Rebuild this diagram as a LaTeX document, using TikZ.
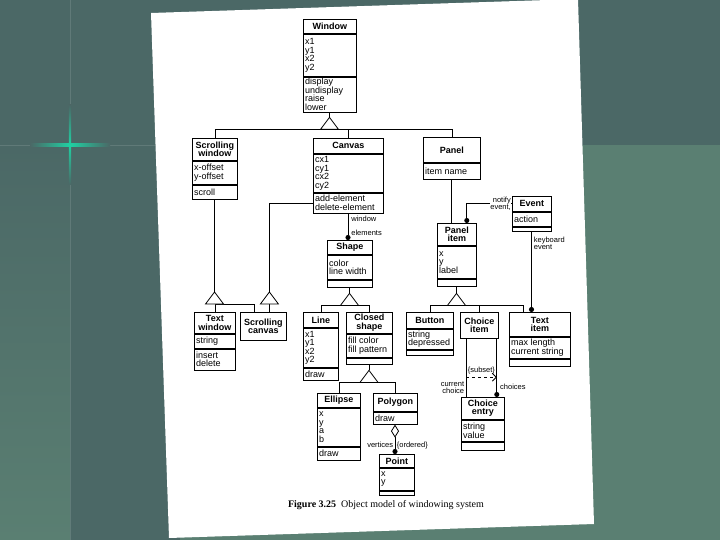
\documentclass[tikz,border=0pt]{standalone}
\usepackage{fontspec}
\setmainfont{Liberation Serif}
\setsansfont{Liberation Sans}
\usetikzlibrary{arrows.meta}

\definecolor{slate}{HTML}{4B6866}
\definecolor{sea}{HTML}{5A7F72}
\definecolor{glow}{HTML}{1FD1A3}

\tikzset{
  box/.style={draw, line width=0.8pt, inner sep=0pt, anchor=north west},
  cname/.style={font=\sffamily\bfseries\fontsize{9}{8.5}\selectfont, align=center, inner sep=0pt},
  ctext/.style={font=\sffamily\fontsize{9}{8.5}\selectfont, align=left, inner sep=0pt, anchor=west},
  role/.style={font=\sffamily\fontsize{7.5}{7.5}\selectfont, align=left, inner sep=0pt},
  link/.style={line width=0.8pt},
  many/.style={-{Circle[length=5pt]}},
  gen/.pic={\draw[link, fill=white] (0,0) -- (-9,12) -- (9,12) -- cycle;},
}

% class box: id, corner, width, heights of name/attribute/operation parts, texts
\newcommand\umlclass[9]{%
  \node[box, minimum width=#3pt, minimum height=#4pt] (#1) at (#2) {};
  \node[cname] (#1-n) at (#1.center) {#7};
  \coordinate (#1-b) at (#1.south west);
  \ifdim#5pt>0pt
    \node[box, minimum width=#3pt, minimum height=#5pt] (#1-a) at (#1-b) {};
    \node[ctext] (#1-at) at ([xshift=2pt]#1-a.west) {#8};
    \coordinate (#1-b) at (#1-a.south west);
  \fi
  \ifdim#6pt>0pt
    \node[box, minimum width=#3pt, minimum height=#6pt] (#1-o) at (#1-b) {};
    \node[ctext] (#1-ot) at ([xshift=2pt]#1-o.west) {#9};
    \coordinate (#1-b) at (#1-o.south west);
  \fi
  \path (#1-b) ++(#3/2,0) coordinate (#1-s);
}

\begin{document}
\begin{tikzpicture}[x=1pt, y=-1pt]
  \useasboundingbox (0,0) rectangle (720,540);
  \fill[sea] (0,0) rectangle (720,540);
  \fill[slate] (0,0) rectangle (720,145);
  \fill[slate] (70,145) rectangle (180,540);
  \shade[top color=slate, bottom color=sea] (0,145) rectangle (70,540);
  \draw[white, opacity=.12, line width=.8pt] (70,0) -- (70,540);
  \draw[white, opacity=.12, line width=.8pt] (0,145) -- (160,145);
  \shade[left color=slate, right color=slate, middle color=glow] (30,144) rectangle (110,146.5);
  \shade[top color=slate, bottom color=slate, middle color=glow] (68.8,105) rectangle (71.2,185);
  \fill[white] (151,13) -- (578,-1) -- (594,524) -- (169,538) -- cycle;

  \umlclass{win}{303,19}{53}{14}{42}{35}{Window}{x1\\y1\\x2\\y2}{display\\undisplay\\raise\\lower}
  \umlclass{swin}{192,138}{45}{22}{23}{14}{Scrolling\\window}{x-offset\\y-offset}{scroll}
  \umlclass{canv}{313,138}{70}{15}{38}{20}{Canvas}{cx1\\cy1\\cx2\\cy2}{add-element\\delete-element}
  \umlclass{pan}{423,137}{57}{25}{16}{0}{Panel}{item name}{}
  \umlclass{pitem}{437,223}{39}{22}{32}{7}{Panel\\item}{x\\y\\label}{}
  \umlclass{evt}{512,196}{39}{15}{14}{4}{Event}{action}{}
  \umlclass{shp}{327,240}{45}{14}{24}{7}{Shape}{color\\line width}{}
  \umlclass{twin}{194,312}{41}{21}{14}{21}{Text\\window}{string}{insert\\delete}
  \umlclass{scan}{240,312}{46}{28}{0}{0}{Scrolling\\canvas}{}{}
  \umlclass{lin}{303,312}{35}{15}{39}{12}{Line}{x1\\y1\\x2\\y2}{draw}
  \umlclass{cshp}{346,312}{46}{21}{23}{6}{Closed\\shape}{fill color\\fill pattern}{}
  \umlclass{btn}{406,312}{47}{16}{20}{5}{Button}{string\\depressed}{}
  \umlclass{citem}{460,312}{38}{26}{0}{0}{Choice\\item}{}{}
  \umlclass{titem}{509,312}{61}{24}{21}{7}{Text\\item}{max length\\current string}{}
  \umlclass{ell}{317,393}{43}{14}{38}{13}{Ellipse}{x\\y\\a\\b}{draw}
  \umlclass{poly}{373,393}{44}{18}{0}{12}{Polygon}{}{draw}
  \umlclass{centry}{461,397}{43}{22}{21}{8}{Choice\\entry}{string\\value}{}
  \umlclass{pt}{379,454}{35}{13}{22}{4}{Point}{x\\y}{}

  % generalizations
  \path (win-s) ++(0,5) coordinate (gw) ++(0,12) coordinate (gwb);
  \draw[link] (win-s) -- (gw);
  \draw[link] (gwb -| swin.north) -- (gwb -| pan.north);
  \foreach \c in {swin,canv,pan} \draw[link] (gwb -| \c.north) -- (\c.north);
  \pic at (gw) {gen};

  \path ([xshift=-9pt]scan.north) coordinate (scanl) ([xshift=6pt]scan.north) coordinate (scanr);
  \path (swin-s |- 0,292) coordinate (gs) ++(0,12) coordinate (gsb);
  \draw[link] (swin-s) -- (gs);
  \draw[link] (twin.north) -- (twin.north |- gsb) -| (scanl);
  \pic at (gs) {gen};

  \path (scanr |- 0,292) coordinate (gc) ++(0,12) coordinate (gcb);
  \draw[link] (canv-o.west) -| (gc);
  \draw[link] (gcb) -- (scanr);
  \pic at (gc) {gen};

  \path (shp-s) ++(0,6) coordinate (gsh) ++(0,12) coordinate (gshb);
  \draw[link] (shp-s) -- (gsh);
  \draw[link] (lin.north) |- (gshb) -| (cshp.north);
  \pic at (gsh) {gen};

  \path (cshp-s) ++(0,6) coordinate (gcs) ++(0,12) coordinate (gcsb);
  \draw[link] (cshp-s) -- (gcs);
  \draw[link] (ell.north) |- (gcsb) -| (poly.north);
  \pic at (gcs) {gen};

  \path ([xshift=-17pt]titem.north) coordinate (titeml);
  \path (pitem-s) ++(0,7) coordinate (gp) ++(0,12) coordinate (gpb);
  \draw[link] (pitem-s) -- (gp);
  \draw[link] (btn.north) |- (gpb) -| (titeml);
  \draw[link] (gpb -| citem.north) -- (citem.north);
  \pic at (gp) {gen};

  % associations
  \draw[link] (pan-s) -- (pan-s |- pitem.north);
  \draw[link, many] (canv-s) -- (canv-s |- shp.north)
    node[role, pos=0, anchor=north west, xshift=3pt, yshift=-2pt] (lwin) {window}
    node[role, pos=1, anchor=south west, xshift=3pt, yshift=4pt] (lelm) {elements};
  \path ([xshift=-10pt]pitem.north east) coordinate (pin);
  \draw[link, many] (evt.west) -| (pin);
  \node[role, align=right, anchor=east, fill=white] (lnot) at ([xshift=-1pt]evt.west) {notify\\event,};
  \draw[link, many] (evt-s) -- (evt-s |- titem.north)
    node[role, pos=0, anchor=north west, xshift=2pt, yshift=-5pt] (lkey) {keyboard\\event};
  \draw[link, {Diamond[open, length=13pt, width=8pt]}-{Circle[length=5pt]}] (poly-s) -- (poly-s |- pt.north)
    node[role, pos=.7, anchor=east, xshift=-1.5pt] (lver) {vertices}
    node[role, pos=.7, anchor=west, xshift=1.5pt] (lord) {\{ordered\}};
  \path ([xshift=6pt]citem.south west) coordinate (cl) ([xshift=-2pt]citem.south east) coordinate (cr);
  \draw[link] (cl) -- (cl |- centry.north) coordinate[pos=.66] (sl)
    node[role, pos=1, anchor=south east, align=right, xshift=-1.5pt, yshift=3pt] (lcur) {current\\choice};
  \draw[link, many] (cr) -- (cr |- centry.north) coordinate[pos=.66] (sr)
    node[role, pos=.82, anchor=west, xshift=3pt] (lcho) {choices};
  \draw[link, dashed, -{Straight Barb[length=4pt]}] (sl) -- (sr)
    node[role, midway, above=3pt] (lsub) {\{subset\}};

  \node[font=\fontsize{10}{10}\selectfont, inner sep=0pt] (cap) at (386,505)
    {\textbf{Figure 3.25}\enspace Object model of windowing system};
\end{tikzpicture}
\end{document}
